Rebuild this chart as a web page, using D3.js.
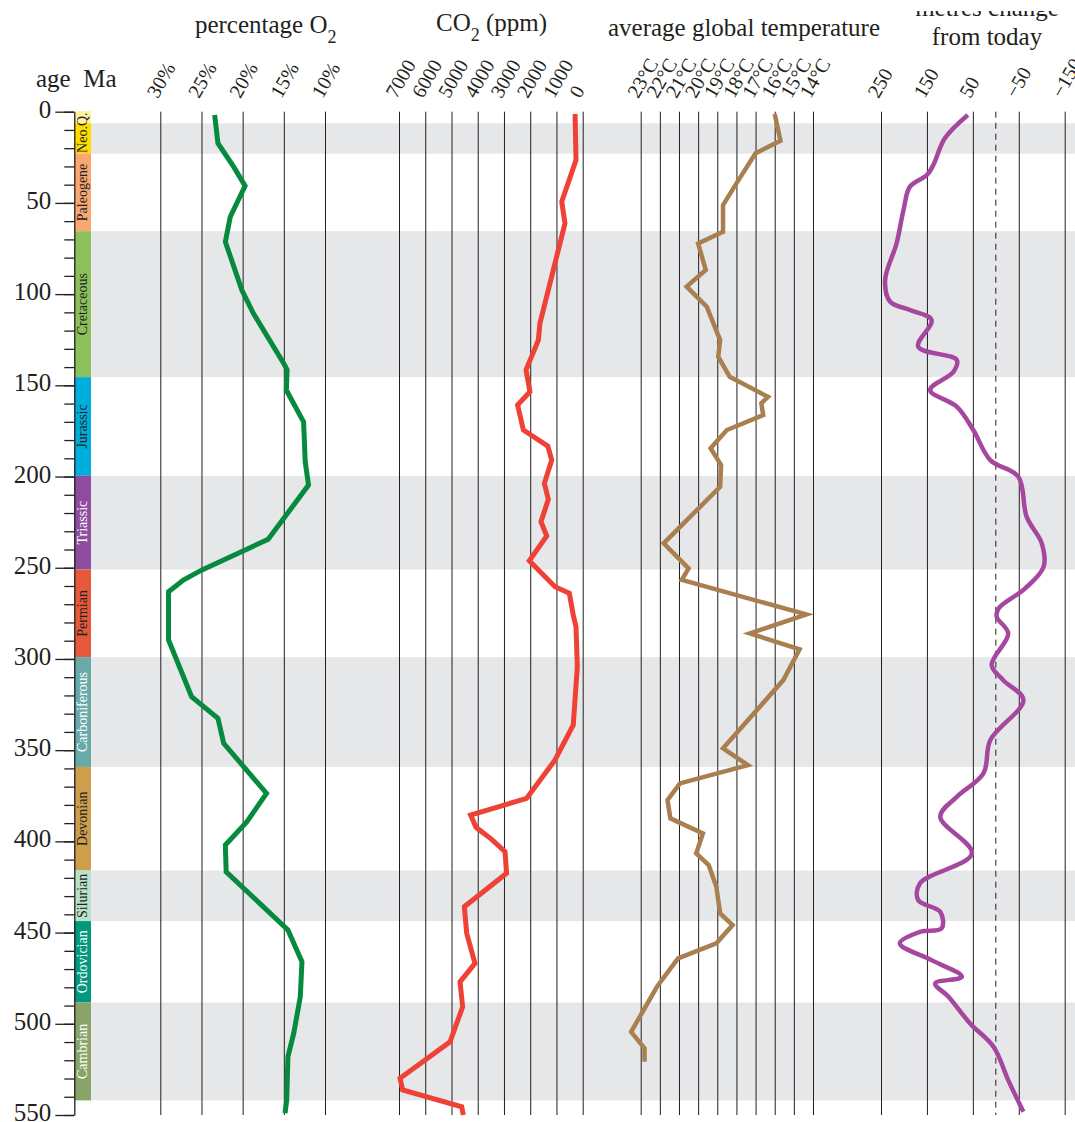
<!DOCTYPE html>
<html>
<head>
<meta charset="utf-8">
<script src="https://cdn.jsdelivr.net/npm/d3@7"></script>
<style>
  html, body { margin: 0; padding: 0; background: #fff; }
  svg { display: block; }
  text { font-family: "Liberation Serif", "Times New Roman", serif; fill: #231f20; }
</style>
</head>
<body>
<svg id="chart" width="1075" height="1122"></svg>
<script>
// ---- Geological periods (Ma) ----
const periodNames  = ["Neo.Q.", "Paleogene", "Cretaceous", "Jurassic", "Triassic", "Permian",
                      "Carboniferous", "Devonian", "Silurian", "Ordovician", "Cambrian"];
const periodStart  = [0, 23.03, 65.5, 145.5, 199.6, 251, 299, 359.2, 416, 443.7, 488.3];
const periodEnd    = [23.03, 65.5, 145.5, 199.6, 251, 299, 359.2, 416, 443.7, 488.3, 542];
const periodColors = ["#ffdc00", "#f9a773", "#8cc05b", "#00aedb", "#8e4c9e", "#e65a3b",
                      "#67aaa8", "#cf9e4d", "#b9e2cc", "#00997d", "#89a468"];
const periodInk    = ["#231f20", "#231f20", "#231f20", "#231f20", "#ffffff", "#231f20",
                      "#ffffff", "#231f20", "#231f20", "#ffffff", "#ffffff"];
const quaternary   = [0, 6.4];
const shadedBands  = [[6.4, 23.03], [65.5, 145.5], [199.6, 251], [299, 359.2], [416, 443.7], [488.3, 542]];

// ---- Age axis ----
const ageMajor = d3.range(0, 551, 50);
const ageMinor = d3.range(0, 551, 10);

// ---- Oxygen, % of atmosphere ----
const o2Age = [1.8, 17.3, 30.1, 40.7, 57.6, 71.3, 97.8, 110.5, 138.9, 141.6, 152.6, 170, 192, 204.7,
               234.4, 251.3, 256.7, 263.2, 289.6, 320.7, 332.6, 346.3, 373.7, 389.3, 402, 416.7,
               448.6, 466, 485.2, 505.3, 518, 541.8, 549];
const o2Pct = [23.4, 23.0, 21.1, 19.7, 21.5, 22.1, 20.1, 18.7, 14.9, 14.6, 14.7, 12.6, 12.4, 12.0,
               16.9, 25.0, 27.2, 29.0, 29.0, 26.2, 23.0, 22.3, 17.1, 19.5, 22.1, 22.0,
               14.5, 12.8, 13.0, 13.8, 14.5, 14.65, 14.85];

// ---- Carbon dioxide, ppm ----
const co2Age = [1.3, 26.5, 49.3, 61.2, 116, 125.2, 141.6, 153.5, 160.8, 174.5, 183.3, 191, 203.7,
                212.5, 224.8, 232.6, 246.2, 260.4, 264, 275.9, 282.3, 304.3, 336.2, 355.4, 376.4,
                385.6, 392.3, 398.9, 405.7, 417.5, 435.8, 450.4, 466.9, 477, 490.7, 509.9, 529.9,
                536.3, 545.5, 550];
const co2Ppm = [290, 255, 800, 675, 1630, 1690, 2160, 2010, 2480, 2260, 1330, 1180, 1460,
                1310, 1590, 1370, 2035, 1055, 510, 360, 255, 205, 360, 1055, 2135,
                4270, 4065, 3470, 2960, 2900, 4510, 4420, 4105, 4675, 4575, 5055, 6960,
                6860, 4610, 4550];

// ---- Average global temperature, °C ----
const tempAge = [1.3, 15.9, 22.8, 39.3, 51.2, 65.8, 72.2, 86.8, 95.9, 106.9, 125.2, 134.3, 145.3,
                 156.3, 159.9, 166.3, 174.5, 184.5, 193.7, 205.6, 236.6, 250.3, 256.7, 275.6,
                 286, 294.7, 311.6, 349, 358.2, 368.2, 377.4, 387.4, 395.6, 406.6, 413, 424.9,
                 439.5, 445.9, 455.9, 464.1, 479.7, 504.4, 513.5, 520.8];
const tempC   = [16.0, 15.7, 17.0, 18.0, 18.7, 18.7, 20.0, 19.6, 20.6, 19.55, 18.85, 18.95, 18.35,
                 16.35, 16.7, 16.6, 18.5, 19.35, 18.8, 18.85, 21.8, 20.5, 20.85, 14.35,
                 17.3, 14.7, 15.55, 18.7, 17.4, 20.95, 21.6, 21.45, 19.75, 20.1, 19.45, 19.05,
                 18.85, 18.2, 19.05, 21.05, 22.15, 23.5, 22.8, 22.8];

// ---- Sea level, metres change from today ----
const seaAge = [1.8, 14.6, 29.2, 34.7, 41.1, 53.9, 72.1, 92.3, 104.2, 108.7, 114.2, 128.8, 136.1,
                142.5, 152.6, 161.7, 174.5, 191, 200.1, 222, 236.6, 249.5, 261.3, 272.3, 276.9,
                286, 303.3, 311.6, 322.5, 344.5, 362.7, 375.6, 386.5, 406.6, 423, 432.2, 438.6,
                447.7, 449.6, 455.9, 465.1, 474.2, 477.9, 485.2, 499.8, 512.6, 530.9, 548.2];
const seaM   = [61, 111, 136, 150, 187, 201, 216, 241, 230, 187, 140, 169, 85,
                92, 143, 85, 49, 12, -49, -67, -100, -104, -64, -6, -2,
                -27, 9, -16, -60, 12, 27, 85, 121, 52, 165, 169, 121,
                118, 165, 209, 140, 74, 132, 103, 56, 5, -27, -60];

// ---- Tick values per panel ----
const o2Ticks   = [30, 25, 20, 15, 10];
const co2Ticks  = [7000, 6000, 5000, 4000, 3000, 2000, 1000, 0];
const tempTicks = [23, 22, 21, 20, 19, 18, 17, 16, 15, 14];
const seaTicks  = [250, 150, 50, -50, -150];

// ---- Scales ----
const yTop = 111.7, yBot = 1115;
const y     = d3.scaleLinear().domain([0, 550]).range([yTop, yBot]);
const xO2   = d3.scaleLinear().domain([30, 10]).range([160.3, 325]);
const xCO2  = d3.scaleLinear().domain([7000, 0]).range([399, 582.7]);
const xTemp = d3.scaleLinear().domain([23, 14]).range([640.7, 813]);
const xSea  = d3.scaleLinear().domain([250, -150]).range([881, 1064.7]);

const svg = d3.select("#chart");
const W = 1075;
const axisX = 74.3, barW = 16.7;

// the sea-level heading sits partly above the top edge
svg.append("defs").append("clipPath").attr("id", "headClip")
  .append("rect").attr("x", 0).attr("y", 11).attr("width", W).attr("height", 60);

// shaded period bands
svg.append("g").selectAll("rect").data(shadedBands).join("rect")
  .attr("x", axisX + barW).attr("width", W - axisX - barW)
  .attr("y", d => y(d[0])).attr("height", d => y(d[1]) - y(d[0]))
  .attr("fill", "#e6e7e8");

// period colour bar
const pIdx = d3.range(periodNames.length);
const bar = svg.append("g");
bar.selectAll("rect").data(pIdx).join("rect")
  .attr("x", axisX).attr("width", barW)
  .attr("y", i => y(periodStart[i])).attr("height", i => y(periodEnd[i]) - y(periodStart[i]))
  .attr("fill", i => periodColors[i]);
bar.append("rect")
  .attr("x", axisX).attr("width", barW)
  .attr("y", y(quaternary[0])).attr("height", y(quaternary[1]) - y(quaternary[0]))
  .attr("fill", "#fff3a6");
bar.selectAll("text").data(pIdx).join("text")
  .attr("transform", i => `translate(${axisX + barW / 2 + 4.8},${y((periodStart[i] + periodEnd[i]) / 2)}) rotate(-90)`)
  .attr("text-anchor", "middle")
  .style("font-size", "14px")
  .style("fill", i => periodInk[i])
  .text(i => periodNames[i]);

// panel gridlines with rotated tick labels
function panelAxis(scale, ticks, fmt) {
  const g = svg.append("g").attr("transform", `translate(0,${yTop})`)
    .call(d3.axisTop(scale).tickValues(ticks).tickFormat(fmt)
      .tickSizeInner(-(yBot - yTop)).tickSizeOuter(0));
  g.select(".domain").remove();
  g.selectAll(".tick line").attr("stroke", "#231f20").attr("stroke-width", 1);
  g.selectAll(".tick text")
    .attr("x", 0).attr("y", 0).attr("dy", 0)
    .attr("transform", "translate(-3,-12.5) rotate(-60)")
    .attr("text-anchor", "start")
    .style("font-family", "'Liberation Serif', serif")
    .style("font-size", "20px")
    .style("fill", "#231f20");
  return g;
}
panelAxis(xO2, o2Ticks, d => d + "%");
panelAxis(xCO2, co2Ticks, d => String(d));
panelAxis(xTemp, tempTicks, d => d + "°C");
panelAxis(xSea, seaTicks, d => (d < 0 ? "\u2212" + Math.abs(d) : String(d)));

// zero sea-level reference
svg.append("line")
  .attr("x1", xSea(0)).attr("x2", xSea(0))
  .attr("y1", yTop).attr("y2", yBot)
  .attr("stroke", "#231f20").attr("stroke-width", 1)
  .attr("stroke-dasharray", "6,5");

// age axis
const ageAxis = svg.append("g").attr("transform", `translate(${axisX},0)`);
ageAxis.call(d3.axisLeft(y).tickValues(ageMinor).tickSize(10).tickSizeOuter(0).tickFormat(""));
ageAxis.append("g").call(d3.axisLeft(y).tickValues(ageMajor).tickSize(19).tickSizeOuter(0).tickPadding(4))
  .call(g => g.select(".domain").remove());
ageAxis.selectAll("line, path").attr("stroke", "#231f20").attr("stroke-width", 1.3);
ageAxis.selectAll(".tick text")
  .attr("dy", "0.22em")
  .style("font-family", "'Liberation Serif', serif")
  .style("font-size", "25px")
  .style("fill", "#231f20");

// data lines
function drawLine(ages, vals, xs, color, width, curve) {
  const pts = ages.map((a, i) => [xs(vals[i]), y(a)]);
  svg.append("path")
    .attr("d", d3.line().curve(curve)(pts))
    .attr("fill", "none")
    .attr("stroke", color)
    .attr("stroke-width", width)
    .attr("stroke-linejoin", "miter")
    .attr("stroke-miterlimit", 6);
}
drawLine(o2Age, o2Pct, xO2, "#058a3e", 5, d3.curveLinear);
drawLine(co2Age, co2Ppm, xCO2, "#ef4136", 5, d3.curveLinear);
drawLine(tempAge, tempC, xTemp, "#a97f4f", 4.5, d3.curveLinear);
drawLine(seaAge, seaM, xSea, "#a6479f", 4.5, d3.curveCatmullRom.alpha(0.5));

// titles
function title(x, yPos, parts, clip) {
  const t = svg.append("text").attr("x", x).attr("y", yPos)
    .attr("text-anchor", "middle").style("font-size", "25px");
  if (clip) t.attr("clip-path", "url(#headClip)");
  parts.forEach(p => {
    const s = t.append("tspan").text(p[0]);
    if (p[1]) s.attr("baseline-shift", "sub").style("font-size", "18px");
  });
}
title(265.7, 33, [["percentage O"], ["2", true]]);
title(491.5, 31, [["CO"], ["2", true], [" (ppm)"]]);
title(744, 36, [["average global temperature"]]);
title(987, 16, [["metres change"]], true);
title(987, 45, [["from today"]]);

svg.append("text").attr("x", 36).attr("y", 87).style("font-size", "25px")
  .text("age\u00a0\u00a0Ma");
</script>
</body>
</html>
